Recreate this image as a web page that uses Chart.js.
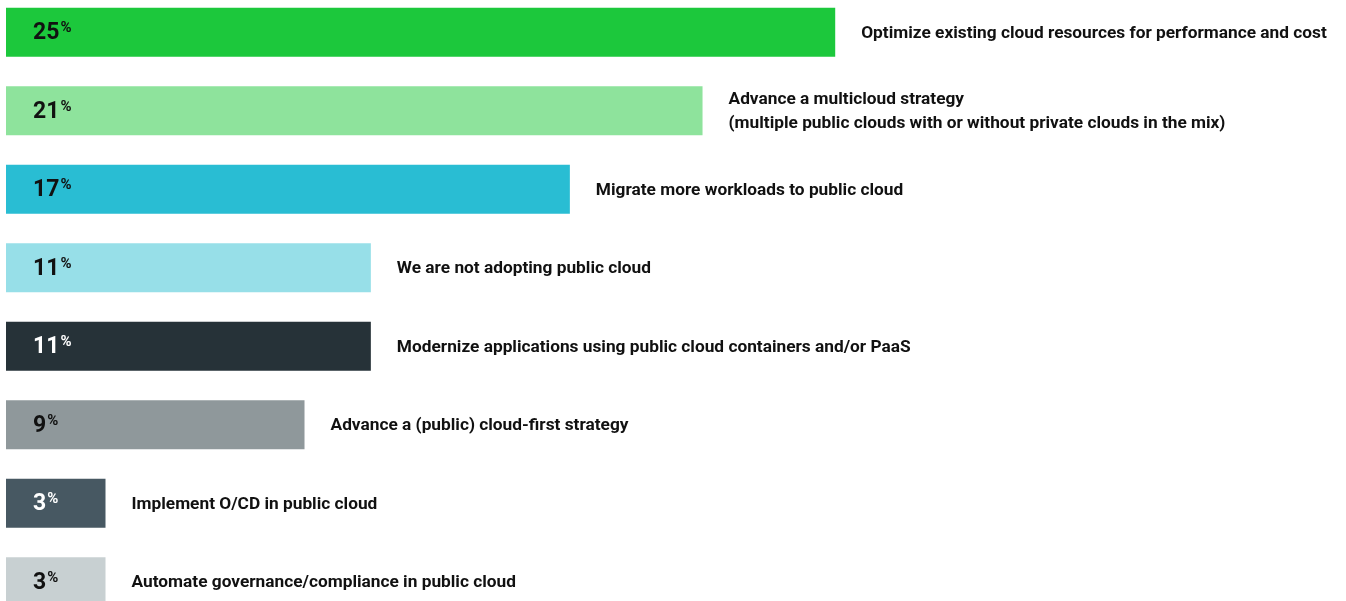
<!DOCTYPE html>
<html>
<head>
<meta charset="utf-8">
<script src="https://cdn.jsdelivr.net/npm/chart.js@4"></script>
<style>
  html, body { margin: 0; padding: 0; background: #fff; overflow: hidden; }
  #wrap { position: relative; width: 1346px; height: 628px; margin-top: -7px; }
</style>
</head>
<body>
<div id="wrap"><canvas id="goalsChart"></canvas></div>
<script>
// البيانات
const categories = [
    ['Optimize existing cloud resources for performance and cost'],
    ['Advance a multicloud strategy', '(multiple public clouds with or without private clouds in the mix)'],
    ['Migrate more workloads to public cloud'],
    ['We are not adopting public cloud'],
    ['Modernize applications using public cloud containers and/or PaaS'],
    ['Advance a (public) cloud-first strategy'],
    ['Implement O/CD in public cloud'],
    ['Automate governance/compliance in public cloud']
];
const values = [25, 21, 17, 11, 11, 9, 3, 3];
const barColors = ['#1cc83c', '#8ee39c', '#29bdd3', '#97dfe8', '#263238', '#8f989b', '#475862', '#c8d0d2'];
const valueTextColors = ['#111', '#111', '#111', '#111', '#fff', '#111', '#fff', '#111'];

const font = 'Roboto, "Noto Sans", sans-serif';

// رسم النصوص بجانب الأعمدة
const labelsPlugin = {
    id: 'barLabels',
    afterDatasetsDraw(chart) {
        const ctx = chart.ctx;
        const meta = chart.getDatasetMeta(0);
        ctx.save();
        ctx.textBaseline = 'middle';
        meta.data.forEach((bar, i) => {
            const y = bar.y;
            // القيمة
            const num = String(values[i]);
            ctx.fillStyle = valueTextColors[i];
            ctx.font = 'bold 23px ' + font;
            ctx.textAlign = 'left';
            const nx = bar.base + 27;
            ctx.fillText(num, nx, y + 1);
            const w = ctx.measureText(num).width;
            ctx.font = 'bold 15px ' + font;
            ctx.fillText('%', nx + w + 1, y - 4);

            // التسمية
            ctx.fillStyle = '#111';
            ctx.font = 'bold 17.3px ' + font;
            const lines = categories[i];
            const lh = 24;
            const startY = y + 1 - (lines.length - 1) * lh / 2;
            lines.forEach((line, j) => {
                ctx.fillText(line, bar.x + 26, startY + j * lh);
            });
        });
        ctx.restore();
    }
};

new Chart(document.getElementById('goalsChart').getContext('2d'), {
    type: 'bar',
    data: {
        labels: categories.map(c => c.join(' ')),
        datasets: [{
            data: values,
            backgroundColor: barColors,
            borderWidth: 0,
            barPercentage: 1,
            categoryPercentage: 0.624
        }]
    },
    options: {
        indexAxis: 'y',
        responsive: true,
        maintainAspectRatio: false,
        animation: false,
        layout: { padding: { left: 6, right: 0, top: 0, bottom: 0 } },
        plugins: {
            legend: { display: false },
            tooltip: { enabled: false }
        },
        scales: {
            x: { display: false, min: 0, max: 40.4 },
            y: { display: false }
        }
    },
    plugins: [labelsPlugin]
});
</script>
</body>
</html>
